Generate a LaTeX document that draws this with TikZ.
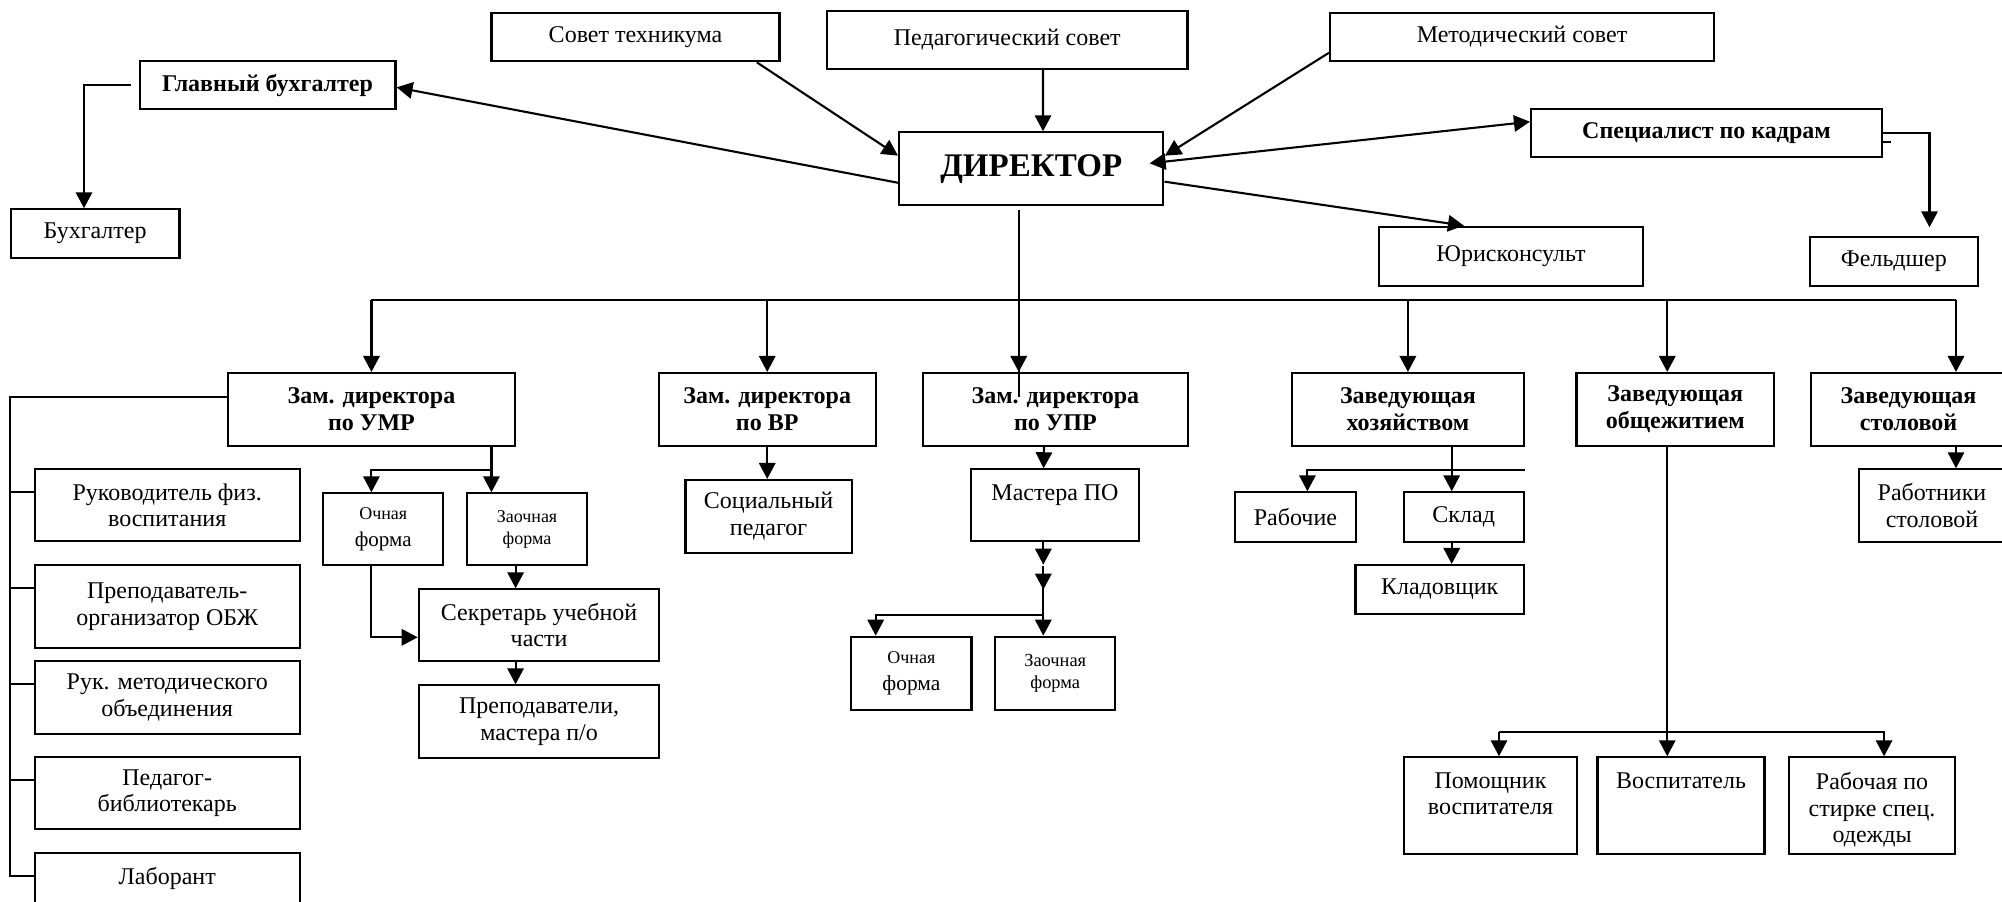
\documentclass[tikz,border=0pt]{standalone}
\usepackage{fontspec}
\setmainfont{Liberation Serif}
\usetikzlibrary{calc,arrows.meta}
\newcommand\obox[7][]{\node[box,#1,minimum width={(#5-#3)*0.5pt},minimum height={(#6-#4)*0.5pt}] (#2) at ({(#3+#5)/2},{(#4+#6)/2}) {#7};}
\tikzset{
  box/.style={draw, line width=1.05pt, inner sep=1pt, align=center, font=\fontsize{12}{13.3}\selectfont},
  bb/.style={font=\fontsize{12}{13.3}\selectfont\bfseries},
  arr/.style={-{Triangle[length=8pt,width=8.2pt]}},
  dbl/.style={{Triangle[length=8pt,width=8.2pt]}-{Triangle[length=8pt,width=8.2pt]}},
  lbl/.style={inner sep=0pt, align=center, font=\fontsize{12}{13.3}\selectfont},
}
\begin{document}
\begin{tikzpicture}[x=0.5pt,y=-0.5pt,line width=1.05pt]
\useasboundingbox (0,0) rectangle (2002,901);
% top row
\obox{sovet}{491.5}{12.7}{779.5}{61.3}{Совет техникума}
\obox{ped}{827}{11}{1187.5}{69}{Педагогический совет}
\obox{met}{1330}{12.7}{1714}{61.3}{Методический совет}
\obox[bb]{glb}{139.7}{61}{395.5}{109.3}{Главный бухгалтер}
\obox{buh}{10.7}{209.3}{179.5}{257.7}{Бухгалтер}
\obox[font=\fontsize{16.5}{18}\selectfont\bfseries]{dir}{899}{132.3}{1163.4}{205}{ДИРЕКТОР}
\obox[bb]{spec}{1531}{108.7}{1882}{157.3}{Специалист по кадрам}
\obox{yur}{1379}{226.7}{1643}{285.7}{Юрисконсульт}
\obox{feld}{1810}{237.3}{1977.7}{285.7}{Фельдшер}
% deputies
\obox[bb]{zumr}{227.7}{373}{515.2}{445.7}{Зам. директора\\по УМР}
\obox[bb]{zvr}{658.75}{373}{875.7}{445.7}{Зам. директора\\по ВР}
\obox[bb]{zupr}{923}{373}{1187.8}{445.7}{Зам. директора\\по УПР}
\obox[bb]{zhoz}{1292}{373}{1523.8}{445.7}{Заведующая\\хозяйством}
\obox[bb]{zobs}{1576.5}{373}{1774}{445.7}{Заведующая\\общежитием}
\obox[bb]{zsto}{1811}{373}{2006}{445.7}{Заведующая\\столовой}
% left column
\obox{fiz}{34.8}{469.3}{299.6}{541}{Руководитель физ.\\воспитания}
\obox{obzh}{34.8}{565}{299.6}{648.3}{Преподаватель-\\организатор ОБЖ}
\obox{metob}{34.8}{661}{299.6}{733.7}{Рук. методического\\объединения}
\obox{bibl}{34.8}{757.3}{299.6}{829.3}{Педагог-\\библиотекарь}
\obox{lab}{34.8}{853.3}{299.6}{904}{Лаборант}
% UMR branch
\obox{ochn1}{323.2}{493.3}{443.3}{565}{{\fontsize{9}{11.7}\selectfont Очная}\\{\fontsize{10.5}{11.7}\selectfont форма}}
\obox[font=\fontsize{9}{10.8}\selectfont]{zaoch1}{467}{493.3}{587}{565}{Заочная\\форма}
\obox{sekr}{418.75}{589.3}{659.4}{661}{Секретарь учебной\\части}
\obox{prep}{418.75}{685.3}{659.4}{757.7}{Преподаватели,\\мастера п/о}
% VR, UPR
\obox{soc}{685.5}{480}{851.6}{552.7}{Социальный\\педагог}
\obox[label={[lbl,anchor=north,yshift=-7.5pt]north:Мастера ПО}]{mast}{971}{469.3}{1139}{541.3}{}
\obox{ochn2}{851.2}{636.7}{971.5}{710}{{\fontsize{9}{11.7}\selectfont Очная}\\{\fontsize{10.7}{11.7}\selectfont форма}}
\obox[font=\fontsize{9.2}{10.8}\selectfont]{zaoch2}{995.4}{636.7}{1115}{710}{Заочная\\форма}
% household
\obox{rab}{1234.8}{492.3}{1356}{541.7}{Рабочие}
\obox{sklad}{1403.6}{492.3}{1523.8}{541.7}{Склад}
\obox{klad}{1355.5}{565}{1523.8}{614}{Кладовщик}
\obox{rabst}{1859}{469.3}{2005}{541.7}{Работники\\столовой}
% dormitory
\obox[label={[lbl,anchor=north,yshift=-7.5pt]north:{Помощник\\воспитателя}}]{pom}{1403.8}{757.3}{1577.2}{854}{}
\obox[label={[lbl,anchor=north,yshift=-7.5pt]north:Воспитатель}]{vosp}{1597.5}{757.3}{1764.5}{854}{}
\obox[label={[lbl,anchor=north,yshift=-7.5pt]north:{Рабочая по\\стирке спец.\\одежды}}]{stirk}{1788.7}{757.3}{1955.4}{854}{}

% ---------- connectors ----------
\draw[arr] ($(sovet.south east)+(-23.7,0)$) -- ($(dir.north west)+(0,24.4)$);
\draw[arr] ($(ped.south)+(35.75,0)$) -- ($(dir.north)+(11.8,0)$);
\draw[arr] ($(met.south west)+(0,-9.6)$) -- ($(dir.north east)+(0.6,24.4)$);
\draw[arr] ($(dir.south west)+(0,-23.3)$) -- ($(glb.east)+(0,2.2)$);
\draw[dbl] ($(dir.east)+(-14.8,-5.35)$) -- ($(spec.west)+(0,-11.3)$);
\draw[arr] ($(dir.east)+(0,13)$) -- ($(yur.north west)+(86,0)$);
\draw[arr] ($(glb.west)+(-8,0)$) -| ($(buh.north)+(-11.1,0)$);
\draw[arr] (spec.east) -| ($(feld.north)+(35.65,-9)$);
\draw ($(spec.east)+(0,8.7)$) -- ++(8,0);

% trunk and bus
\coordinate (t) at ($(dir.south)+(-12.45,4.3)$);
\coordinate (bus) at ($(zumr.north)+(0,-72)$);
\draw (t) -- (t |- zupr.north) -- ++(0,25);
\draw (bus) -- ($(zsto.north)+(47.5,-72)$);
\draw[arr] (bus) -- (zumr.north);
\draw[arr] (zvr.north |- bus) -- (zvr.north);
\draw[arr] (t |- bus) -- (t |- zupr.north);
\draw[arr] (zhoz.north |- bus) -- (zhoz.north);
\coordinate (o1) at ($(zobs.south)+(-8,0)$);
\draw[arr] (o1 |- bus) -- (o1 |- zobs.north);
\coordinate (s1) at ($(zsto.south)+(47.5,0)$);
\draw[arr] (s1 |- bus) -- (s1 |- zsto.north);

% left column
\coordinate (lc) at ($(buh.north west)+(0,0)$);
\path ($(fiz.north west)+(0,24)$) coordinate (sfiz)
      ($(obzh.north west)+(0,24)$) coordinate (sobzh)
      ($(metob.north west)+(0,24)$) coordinate (smetob)
      ($(bibl.north west)+(0,24)$) coordinate (sbibl)
      ($(lab.north west)+(0,24)$) coordinate (slab);
\draw ($(zumr.west)+(0,-12)$) -| (lc |- slab) -- (slab);
\draw (lc |- sfiz) -- (sfiz);
\draw (lc |- sobzh) -- (sobzh);
\draw (lc |- smetob) -- (smetob);
\draw (lc |- sbibl) -- (sbibl);

% UMR children
\coordinate (u1) at ($(zumr.south)+(120,0)$);
\coordinate (u2) at ($(u1)+(0,23.6)$);
\draw (u1) -- (u2);
\draw[arr] (u2) -- (u2 |- zaoch1.north);
\draw[arr] (u2) -| ($(ochn1.north)+(-11.85,0)$);
\draw[arr] ($(ochn1.south)+(-11.85,0)$) |- ($(sekr.west)+(0,12.15)$);
\coordinate (u3) at ($(zaoch1.south)+(-11.4,0)$);
\draw[arr] (u3) -- (u3 |- sekr.north);
\draw[arr] ($(sekr.south)+(-23.5,0)$) -- ($(prep.north)+(-23.5,0)$);

% VR
\draw[arr] (zvr.south) -- (zvr.south |- soc.north);
% UPR
\draw[arr] ($(zupr.south)+(-11.4,0)$) -- ($(mast.north)+(-11.4,0)$);
\coordinate (m0) at ($(mast.south)+(-11.7,0)$);
\draw[arr] (m0) -- ++(0,22.3);
\draw[arr] ($(m0)+(0,24)$) -- ++(0,23.3);
\coordinate (m3) at ($(m0)+(0,72.3)$);
\draw ($(m0)+(0,46)$) -- (m3);
\draw[arr] (m3) -- (m3 |- zaoch2.north);
\draw[arr] (m3) -| ($(ochn2.north)+(-35.65,0)$);

% household
\coordinate (h1) at ($(zhoz.south)+(43.8,0)$);
\coordinate (h2) at ($(h1)+(0,23.6)$);
\draw (h1) -- (h2) -- (h2 -| zhoz.east);
\draw[arr] (h2) -| ($(rab.north)+(12,0)$);
\draw[arr] (h2) -- (h2 |- sklad.north);
\draw[arr] (h2 |- sklad.south) -- (h2 |- klad.north);

% dormitory
\coordinate (o3) at ($(pom.north)+(8.5,-24)$);
\draw[arr] (o1) -- (o1 |- vosp.north);
\draw[arr] (o3) -- ($(pom.north)+(8.5,0)$);
\draw[arr] (o3) -| ($(stirk.north)+(12,0)$);

% canteen
\draw[arr] (s1) -- (s1 |- rabst.north);
\end{tikzpicture}
\end{document}
